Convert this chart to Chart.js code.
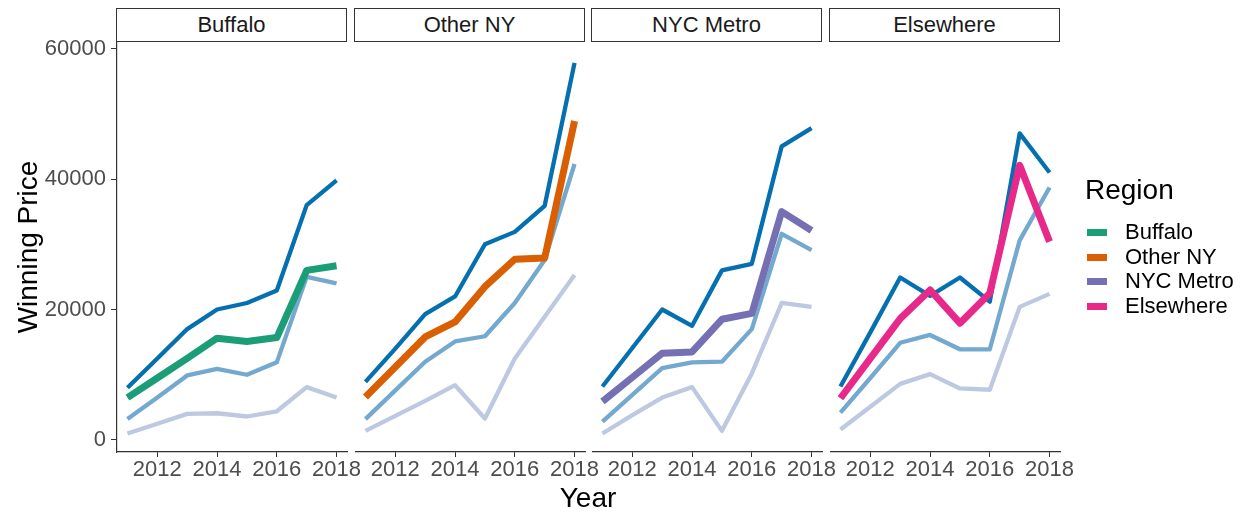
<!DOCTYPE html>
<html>
<head>
<meta charset="utf-8">
<script src="https://cdn.jsdelivr.net/npm/chart.js@4.4.1/dist/chart.umd.min.js"></script>
<style>
  html, body { margin: 0; padding: 0; background: #fff; }
  body { width: 1249px; height: 512px; position: relative; overflow: hidden; font-family: "Liberation Sans", Arial, sans-serif; }
  canvas.panel { position: absolute; top: 26px; }
  .strip { position: absolute; top: 8px; height: 34px; box-sizing: border-box; border: 1.5px solid #333; text-align: center; line-height: 32px; font-size: 22px; color: #1a1a1a; background: #fff; }
  .xtitle { position: absolute; left: 538px; width: 100px; top: 482px; text-align: center; font-size: 28px; color: #000; line-height: 32px; }
  .legend { position: absolute; left: 1085px; top: 173px; }
  .legend .ttl { font-size: 28px; line-height: 34px; color: #000; margin-bottom: 13px; }
  .legend .item { position: relative; height: 24.5px; font-size: 22px; line-height: 24.5px; color: #000; padding-left: 40px; }
  .legend .sw { position: absolute; left: 2px; top: 9px; width: 20px; height: 7px; }
</style>
</head>
<body>
<div id="root"></div>
<div class="xtitle">Year</div>
<div class="legend" id="legend"><div class="ttl">Region</div></div>
<script>
// ---- data ----
const years = [2011, 2012, 2013, 2014, 2015, 2016, 2017, 2018];
const xTicks = [2012, 2014, 2016, 2018];
const yTicks = [0, 20000, 40000, 60000];
const regionNames = ['Buffalo', 'Other NY', 'NYC Metro', 'Elsewhere'];

const buffaloRegion = [6500, 9500, 12500, 15600, 15100, 15700, 26000, 26700];
const buffaloHigh   = [8000, 12500, 17000, 20000, 21000, 22900, 36000, 39800];
const buffaloMid    = [3200, 6500, 9900, 10900, 10000, 11900, 25000, 24000];
const buffaloLow    = [1000, 2500, 4000, 4100, 3600, 4400, 8100, 6500];

const otherNYRegion = [6600, 11200, 15800, 18100, 23500, 27700, 27900, 48900];
const otherNYHigh   = [8900, 14000, 19300, 22000, 30000, 31900, 35900, 57800];
const otherNYMid    = [3200, 7600, 12000, 15100, 15900, 21000, 27600, 42300];
const otherNYLow    = [1400, 3700, 6000, 8400, 3300, 12500, 18900, 25300];

const nycRegion = [5900, 9600, 13300, 13500, 18500, 19400, 35000, 32100];
const nycHigh   = [8200, 14100, 20000, 17500, 26000, 27000, 45000, 47800];
const nycMid    = [2800, 6900, 11000, 11900, 12000, 17000, 31600, 29100];
const nycLow    = [1000, 3800, 6500, 8100, 1400, 10200, 21000, 20400];

const elseRegion = [6400, 12500, 18600, 23000, 17900, 22500, 42100, 30400];
const elseHigh   = [8200, 16500, 24900, 22100, 24900, 21200, 47000, 41000];
const elseMid    = [4200, 9500, 14900, 16100, 13900, 13900, 30600, 38700];
const elseLow    = [1600, 5100, 8600, 10100, 7900, 7700, 20400, 22400];

// ---- styling ----
const regionColors = ['#1b9e77', '#d95f02', '#7570b3', '#e7298a'];
const highColor = '#0570b0', midColor = '#74a9cf', lowColor = '#bdc9e1';

const panels = [
  { name: regionNames[0], region: buffaloRegion, high: buffaloHigh, mid: buffaloMid, low: buffaloLow },
  { name: regionNames[1], region: otherNYRegion, high: otherNYHigh, mid: otherNYMid, low: otherNYLow },
  { name: regionNames[2], region: nycRegion, high: nycHigh, mid: nycMid, low: nycLow },
  { name: regionNames[3], region: elseRegion, high: elseHigh, mid: elseMid, low: elseLow }
];

const panelLefts = [117, 355, 592, 830];
const panelWidth = 230;
const yAxisWidth = 117;
const padRight = 30;
const canvasHeight = 486;

const pts = arr => years.map((yr, i) => ({ x: yr, y: arr[i] }));
const root = document.getElementById('root');

panels.forEach((p, idx) => {
  const first = idx === 0;
  const canvasLeft = first ? 0 : panelLefts[idx];
  const canvasWidth = (first ? yAxisWidth : 0) + panelWidth + padRight;

  const strip = document.createElement('div');
  strip.className = 'strip';
  strip.style.left = (panelLefts[idx] - 1) + 'px';
  strip.style.width = (panelWidth + 1) + 'px';
  strip.textContent = p.name;
  root.appendChild(strip);

  const cv = document.createElement('canvas');
  cv.className = 'panel';
  cv.width = canvasWidth;
  cv.height = canvasHeight;
  cv.style.left = canvasLeft + 'px';
  cv.style.width = canvasWidth + 'px';
  cv.style.height = canvasHeight + 'px';
  root.appendChild(cv);

  new Chart(cv.getContext('2d'), {
    type: 'line',
    data: {
      datasets: [
        { label: p.name, data: pts(p.region), borderColor: regionColors[idx], borderWidth: 7 },
        { label: 'high', data: pts(p.high), borderColor: highColor, borderWidth: 4.3 },
        { label: 'mid', data: pts(p.mid), borderColor: midColor, borderWidth: 4.3 },
        { label: 'low', data: pts(p.low), borderColor: lowColor, borderWidth: 4.3 }
      ]
    },
    options: {
      responsive: false,
      animation: false,
      devicePixelRatio: 1,
      layout: { padding: { top: 16, right: padRight, bottom: 0, left: 0 } },
      elements: { point: { radius: 0, hoverRadius: 0 }, line: { tension: 0, fill: false, borderJoinStyle: 'round' } },
      plugins: { legend: { display: false }, tooltip: { enabled: false } },
      scales: {
        x: {
          type: 'linear',
          min: 2010.65,
          max: 2018.35,
          afterBuildTicks: s => { s.ticks = xTicks.map(v => ({ value: v })); },
          afterFit: s => { s.height = 60; },
          ticks: {
            color: '#4d4d4d',
            font: { family: '"Liberation Sans", Arial, sans-serif', size: 22, lineHeight: 1 },
            padding: 2,
            autoSkip: false,
            maxRotation: 0,
            callback: v => String(v)
          },
          grid: { display: true, drawOnChartArea: false, drawTicks: true, tickLength: 5, color: '#333', lineWidth: 1 },
          border: { display: true, color: '#333', width: 1.2 }
        },
        y: {
          display: first,
          min: -1840,
          max: 61000,
          afterBuildTicks: s => { s.ticks = yTicks.map(v => ({ value: v })); },
          afterFit: s => { s.width = first ? yAxisWidth : 0; },
          ticks: {
            color: '#4d4d4d',
            font: { family: '"Liberation Sans", Arial, sans-serif', size: 22, lineHeight: 1 },
            padding: 5,
            callback: v => String(v)
          },
          grid: { display: true, drawOnChartArea: false, drawTicks: true, tickLength: 6, color: '#333', lineWidth: 1 },
          border: { display: true, color: '#333', width: 1.2 },
          title: {
            display: true,
            text: 'Winning Price',
            color: '#000',
            font: { family: '"Liberation Sans", Arial, sans-serif', size: 28, lineHeight: 1.2 },
            padding: { top: 12, bottom: 0 }
          }
        }
      }
    }
  });
});

// legend
const lg = document.getElementById('legend');
regionNames.forEach((n, i) => {
  const it = document.createElement('div');
  it.className = 'item';
  const sw = document.createElement('span');
  sw.className = 'sw';
  sw.style.background = regionColors[i];
  it.appendChild(sw);
  it.appendChild(document.createTextNode(n));
  lg.appendChild(it);
});
</script>
</body>
</html>
